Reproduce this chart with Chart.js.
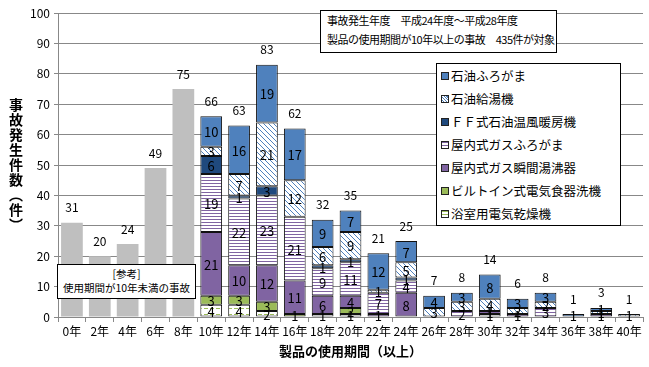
<!DOCTYPE html>
<html>
<head>
<meta charset="utf-8">
<script src="https://cdn.jsdelivr.net/npm/chart.js@4.4.1/dist/chart.umd.min.js"></script>
<style>
  body { margin: 0; background: #fff; font-family: "Noto Sans CJK JP", sans-serif; }
  #wrap { position: relative; width: 649px; height: 367px; }
  #chart { position: absolute; left: 0; top: 0; }
  .box { position: absolute; background: #fff; border: 1px solid #000; color: #000; }
  #note { left: 320px; top: 10px; width: 229px; height: 41px; font-size: 11px; letter-spacing: -0.5px; line-height: 19px; padding-left: 6px; white-space: nowrap; }
  #ref { left: 57px; top: 264px; width: 137px; height: 31px; font-size: 10.5px; line-height: 14px; text-align: center; padding-top: 2px; white-space: nowrap; }
  #legend { left: 436px; top: 63px; width: 183px; height: 161px; font-size: 12.5px; }
  #legend div { height: 23px; line-height: 23px; padding-left: 4px; white-space: nowrap; }
  #legend span { display: inline-block; width: 6px; height: 6px; border: 1px solid #222; margin-right: 2px; vertical-align: 1px; }
  #ytitle { position: absolute; left: 6px; top: 98px; writing-mode: vertical-rl; font-size: 14px; font-weight: bold; letter-spacing: 1px; }
</style>
</head>
<body>
<div id="wrap">
  <canvas id="chart" width="649" height="367"></canvas>
  <div id="ytitle">事故発生件数（件）</div>
  <div class="box" id="note">事故発生年度　平成24年度～平成28年度<br>製品の使用期間が10年以上の事故　435件が対象</div>
  <div class="box" id="ref">[参考]<br>使用期間が10年未満の事故</div>
  <div class="box" id="legend"></div>
</div>
<script>
document.addEventListener('DOMContentLoaded', function () {

    // Data
    const categories = ['0年', '2年', '4年', '6年', '8年', '10年', '12年', '14年', '16年', '18年', '20年',
        '22年', '24年', '26年', '28年', '30年', '32年', '34年', '36年', '38年', '40年'];
    const under10 = [31, 20, 24, 49, 75, null, null, null, null, null, null, null, null, null, null, null, null, null, null, null, null];
    const bathDryer = [0, 0, 0, 0, 0, 4, 4, 2, 0, 1, 1, 0, 0, 0, 0, 1, 0, 0, 0, 0, 0];
    const dishwasher = [0, 0, 0, 0, 0, 3, 3, 3, 1, 0, 2, 0, 0, 0, 0, 0, 0, 0, 0, 0, 0];
    const gasHeater = [0, 0, 0, 0, 0, 21, 10, 12, 11, 6, 4, 1, 8, 0, 0, 0, 0, 0, 0, 1, 0];
    const gasBath = [0, 0, 0, 0, 0, 19, 22, 23, 21, 9, 11, 7, 4, 0, 2, 1, 1, 3, 0, 0, 0];
    const ffHeater = [0, 0, 0, 0, 0, 6, 1, 3, 0, 1, 1, 0, 1, 0, 0, 0, 0, 0, 0, 0, 0];
    const oilWater = [0, 0, 0, 0, 0, 3, 7, 21, 12, 6, 9, 1, 5, 3, 3, 4, 2, 2, 0, 1, 1];
    const oilBath = [0, 0, 0, 0, 0, 10, 16, 19, 17, 9, 7, 12, 7, 4, 3, 8, 3, 3, 1, 1, 0];
    const yTicks = [0, 10, 20, 30, 40, 50, 60, 70, 80, 90, 100];

    // Patterns
    function makePattern(size, bg, draw) {
        const c = document.createElement('canvas');
        c.width = size; c.height = size;
        const g = c.getContext('2d');
        g.fillStyle = bg;
        g.fillRect(0, 0, size, size);
        draw(g, size);
        return g.createPattern(c, 'repeat');
    }
    const diagPattern = makePattern(5, '#fff', (g, s) => {
        g.strokeStyle = '#4F81BD';
        g.lineWidth = 1;
        g.beginPath();
        g.moveTo(-1, -1); g.lineTo(s + 1, s + 1);
        g.moveTo(-1, s - 1); g.lineTo(1, s + 1);
        g.moveTo(s - 1, -1); g.lineTo(s + 1, 1);
        g.stroke();
    });
    const stripePattern = makePattern(3, '#fff', (g, s) => {
        g.fillStyle = '#8064A2';
        g.fillRect(0, 0, s, 1);
    });
    const dashPattern = makePattern(6, '#fff', (g, s) => {
        g.fillStyle = '#9BBB59';
        g.fillRect(0, 2, 4, 1);
    });

    const series = [
        { label: '浴室用電気乾燥機', data: bathDryer, bg: dashPattern, css: 'repeating-linear-gradient(0deg,#fff 0 2px,#9BBB59 2px 3px)' },
        { label: 'ビルトイン式電気食器洗機', data: dishwasher, bg: '#9BBB59', css: '#9BBB59' },
        { label: '屋内式ガス瞬間湯沸器', data: gasHeater, bg: '#8064A2', css: '#8064A2' },
        { label: '屋内式ガスふろがま', data: gasBath, bg: stripePattern, css: 'repeating-linear-gradient(0deg,#fff 0 2px,#8064A2 2px 3px)' },
        { label: 'ＦＦ式石油温風暖房機', data: ffHeater, bg: '#1F497D', css: '#1F497D' },
        { label: '石油給湯機', data: oilWater, bg: diagPattern, css: 'repeating-linear-gradient(45deg,#fff 0 1px,#4F81BD 1px 2px)' },
        { label: '石油ふろがま', data: oilBath, bg: '#4F81BD', css: '#4F81BD' }
    ];

    // Legend (top to bottom is reverse of stacking)
    const legendEl = document.getElementById('legend');
    series.slice().reverse().forEach(s => {
        const row = document.createElement('div');
        row.innerHTML = `<span style="background:${s.css}"></span>${s.label}`;
        legendEl.appendChild(row);
    });

    const datasets = [{
        label: '10年未満',
        data: under10,
        backgroundColor: '#BFBFBF',
        borderWidth: 0,
        stack: 's'
    }].concat(series.map(s => ({
        label: s.label,
        data: s.data.map(v => v === 0 ? null : v),
        backgroundColor: s.bg,
        borderColor: '#111',
        borderWidth: 1,
        borderSkipped: false,
        stack: 's'
    })));

    const totals = categories.map((c, i) => (under10[i] || 0) + series.reduce((a, s) => a + s.data[i], 0));

    // Value labels inside segments and totals above bars
    const labelPlugin = {
        id: 'labels',
        afterDatasetsDraw(chart) {
            const ctx = chart.ctx;
            ctx.save();
            ctx.fillStyle = '#000';
            ctx.textAlign = 'center';
            ctx.textBaseline = 'middle';
            ctx.font = '13px "Noto Sans CJK JP", sans-serif';
            chart.data.datasets.forEach((ds, di) => {
                if (di === 0) return;
                chart.getDatasetMeta(di).data.forEach((el, i) => {
                    const v = ds.data[i];
                    if (!v) return;
                    ctx.fillText(String(v), el.x, (el.y + el.base) / 2 + 1);
                });
            });
            ctx.font = '12px "Noto Sans CJK JP", sans-serif';
            totals.forEach((t, i) => {
                if (!t) return;
                const x = chart.scales.x.getPixelForValue(i);
                const y = chart.scales.y.getPixelForValue(t);
                ctx.fillText(String(t), x, y - 15);
            });
            ctx.restore();
        }
    };

    new Chart(document.getElementById('chart'), {
        type: 'bar',
        data: { labels: categories, datasets: datasets },
        plugins: [labelPlugin],
        options: {
            responsive: false,
            animation: false,
            layout: { padding: { left: 0, right: 6, top: 13, bottom: 4 } },
            plugins: { legend: { display: false }, tooltip: { enabled: false } },
            datasets: { bar: { barPercentage: 0.78, categoryPercentage: 1 } },
            scales: {
                x: {
                    stacked: true,
                    grid: { display: true, drawOnChartArea: false, offset: true, tickLength: 5, color: '#888' },
                    border: { color: '#888' },
                    ticks: { color: '#000', font: { size: 12, family: '"Noto Sans CJK JP", sans-serif' }, maxRotation: 0, autoSkip: false, padding: 2 },
                    title: { display: true, text: '製品の使用期間（以上）', color: '#000', font: { size: 13, weight: 'bold', family: '"Noto Sans CJK JP", sans-serif' }, padding: { top: 3, bottom: 4 } }
                },
                y: {
                    stacked: true,
                    min: 0, max: 100,
                    afterFit: s => { s.width = 58; },
                    afterBuildTicks: s => { s.ticks = yTicks.map(v => ({ value: v })); },
                    grid: { color: '#888', tickLength: 4 },
                    border: { color: '#888' },
                    ticks: { color: '#000', font: { size: 12, family: '"Noto Sans CJK JP", sans-serif' }, padding: 4 }
                }
            }
        }
    });
});
</script>
</body>
</html>
